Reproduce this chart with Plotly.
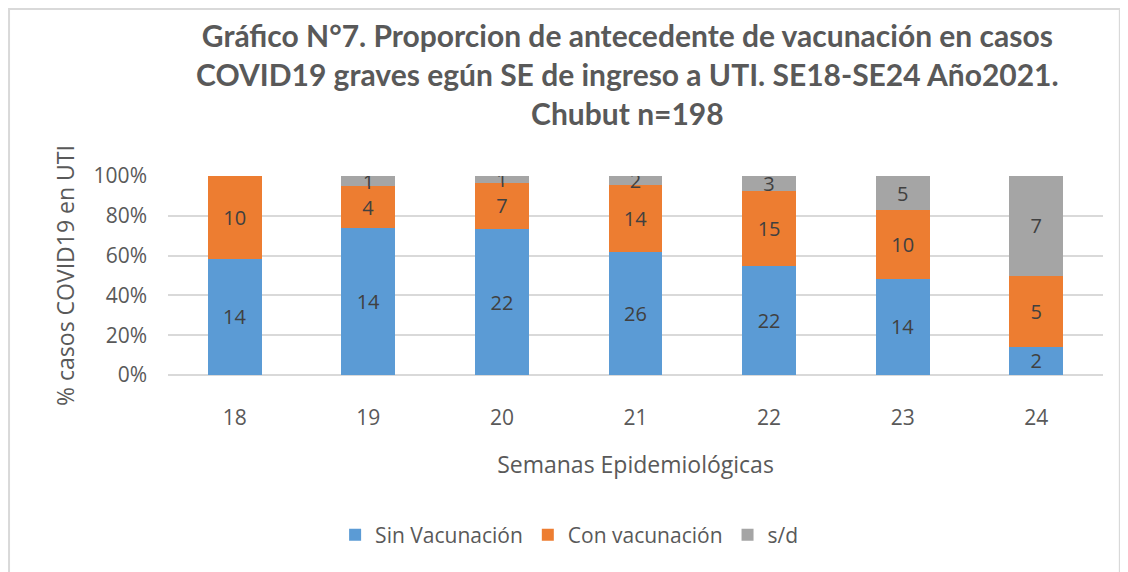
import plotly.graph_objects as go

semanas = ["18", "19", "20", "21", "22", "23", "24"]
sin_vacunacion = [14, 14, 22, 26, 22, 14, 2]
con_vacunacion = [10, 4, 7, 14, 15, 10, 5]
sin_dato = [0, 1, 1, 2, 3, 5, 7]
y_ticks = [0, 20, 40, 60, 80, 100]
y_tick_labels = ["0%", "20%", "40%", "60%", "80%", "100%"]

series = [
    ("Sin Vacunación", sin_vacunacion, "#5b9bd5"),
    ("Con vacunación", con_vacunacion, "#ed7d31"),
    ("s/d", sin_dato, "#a5a5a5"),
]

fig = go.Figure()
for name, vals, color in series:
    fig.add_trace(go.Bar(
        x=semanas, y=vals, name=name,
        marker=dict(color=color, line=dict(width=0)),
        text=[str(v) if v else "" for v in vals],
        textposition="inside", insidetextanchor="middle", textangle=0,
        constraintext="none",
        textfont=dict(family="Open Sans", size=20, color="#404040"),
        hoverinfo="skip",
    ))

fig.update_layout(
    barmode="stack", barnorm="percent", bargap=0.596,
    width=1120, height=564,
    paper_bgcolor="white", plot_bgcolor="white",
    margin=dict(l=160, r=25, t=168, b=197, autoexpand=False),
    title=dict(
        text="<b>Gráfico N°7. Proporcion de antecedente de vacunación en casos<br>COVID19 graves egún SE de ingreso a UTI. SE18-SE24 Año2021.<br>Chubut n=198</b>",
        x=0.553, xanchor="center", y=0.93, yanchor="top",
        font=dict(family="Lato", size=30, color="#595959"),
    ),
    font=dict(family="Open Sans", color="#595959"),
    uniformtext=dict(minsize=10, mode="show"),
    legend=dict(
        orientation="h", x=0.429, xanchor="center", y=-0.804, yanchor="middle",
        font=dict(family="Open Sans", size=21, color="#595959"),
        traceorder="normal", itemwidth=30,
    ),
    xaxis=dict(
        title=dict(text="Semanas Epidemiológicas", font=dict(size=23, color="#595959"), standoff=26),
        tickfont=dict(size=21, color="#595959"),
        showline=False, ticks="", ticklabelstandoff=28, automargin=False,
    ),
    yaxis=dict(
        title=dict(text="% casos COVID19 en UTI", font=dict(size=23, color="#595959"), standoff=12),
        range=[0, 100], tickvals=y_ticks, ticktext=y_tick_labels,
        tickfont=dict(size=21, color="#595959"),
        showgrid=True, gridcolor="#d9d9d9", gridwidth=2,
        zeroline=True, zerolinecolor="#d9d9d9", zerolinewidth=2,
        ticklabelstandoff=20, automargin=False,
    ),
    shapes=[dict(type="rect", xref="paper", yref="paper", x0=-0.170, x1=1.018, y0=-1.05, y1=1.839,
                 line=dict(color="#d9d9d9", width=2))],
)

fig.write_html("out.html")
